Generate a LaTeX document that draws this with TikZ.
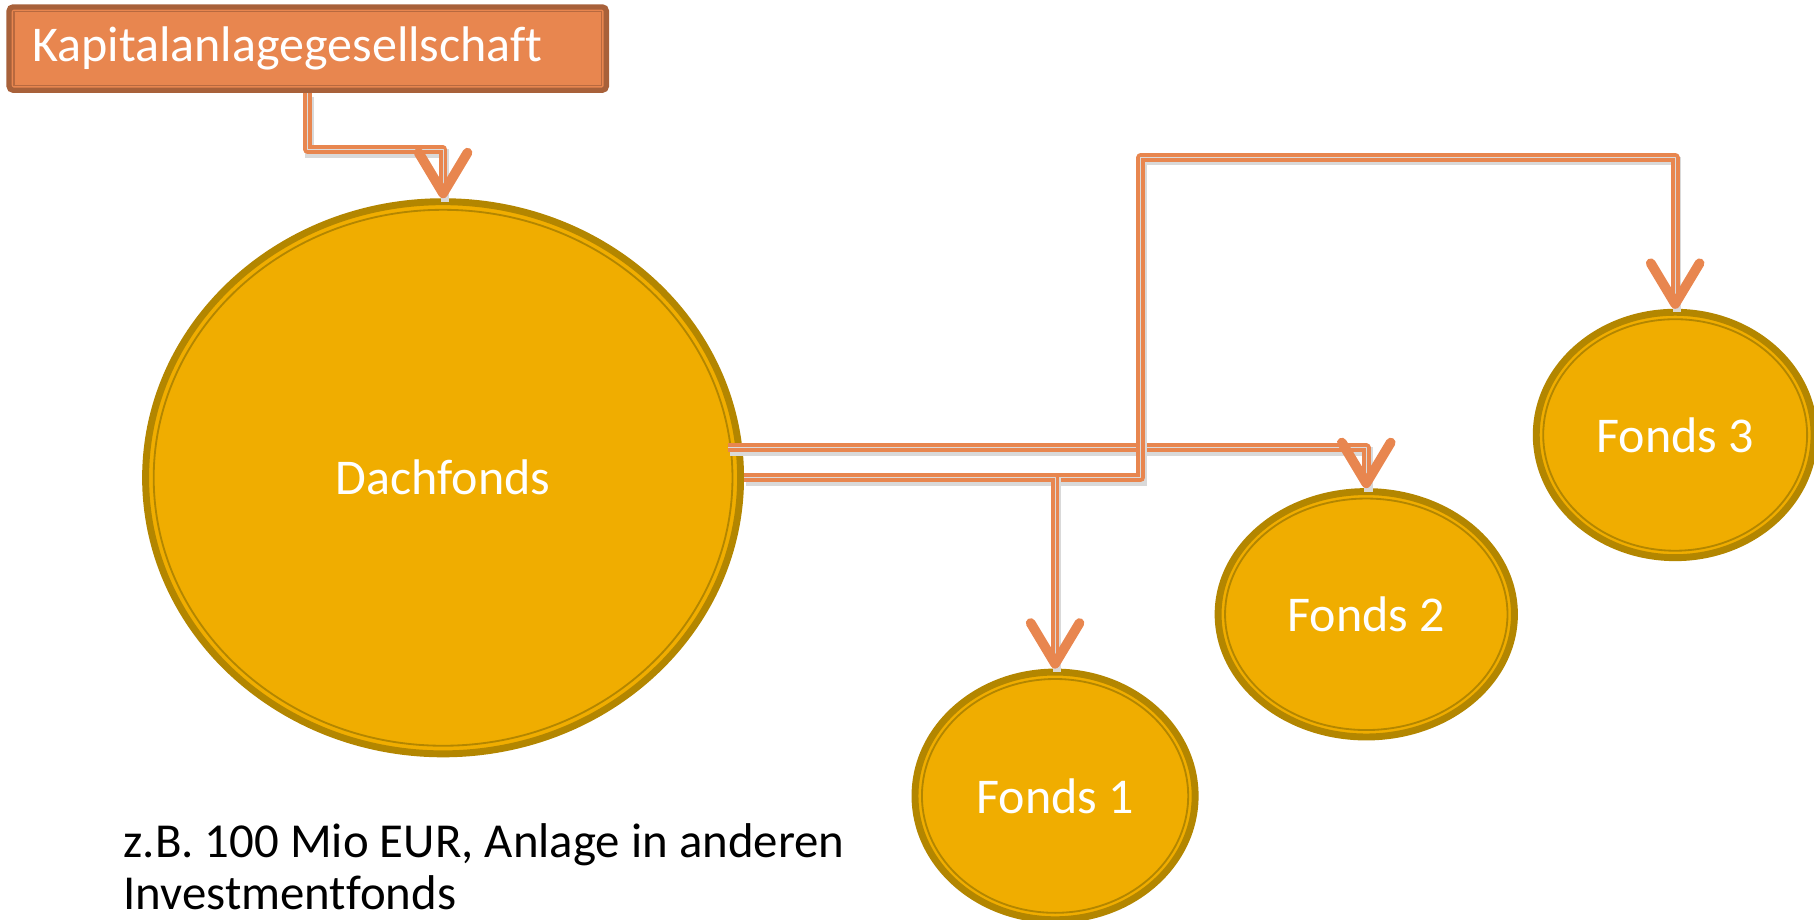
\documentclass[tikz,border=0pt]{standalone}
\usepackage{fontspec}
\setmainfont{Carlito}[Ligatures=NoCommon]
\usetikzlibrary{arrows.meta,shapes.geometric,calc}
\definecolor{boxfill}{HTML}{E8864F}
\definecolor{boxdark}{HTML}{A8613A}
\definecolor{boxline}{HTML}{B8693F}
\definecolor{gold}{HTML}{F0AD00}
\definecolor{golddark}{HTML}{B38600}
\definecolor{conn}{HTML}{E8864F}
\tikzset{
  kagbox/.style={draw=boxdark, line width=1.3pt, fill=boxfill, rounded corners=1pt,
    minimum width=5.16cm, minimum height=0.72cm, inner sep=0pt,
    text width=4.76cm, align=left, text=white, font=\fontsize{12.3}{14}\selectfont},
  fund/.style={ellipse, draw=golddark, line width=1.7pt, fill=gold, inner sep=0pt,
    text=white, font=\fontsize{12.3}{14}\selectfont},
  ringin/.style={draw=golddark, line width=0.45pt},
  conline/.style={draw=conn, line width=0.95pt, double=black!14, double distance=0.25pt,
    line join=round,
    preaction={draw=black!15, line width=2.1pt, -, double=none,
      transform canvas={shift={(0.5pt,-0.9pt)}}},
    -{Straight Barb[length=10pt,width=12pt,line width=2.4pt,round]}},
  note/.style={anchor=north west, inner sep=0pt, align=left, text=black,
    font=\fontsize{12}{12.9}\selectfont}
}
\begin{document}
\begin{tikzpicture}[x=0.01cm,y=-0.01cm]
\useasboundingbox (0,0) rectangle (1568,795);
% box
\node[kagbox] (k) at (266,42) {Kapitalanlagegesellschaft};
\draw[boxline, line width=0.4pt] (12,10) rectangle (520,74);
% funds
\node[fund, minimum width=5.14cm, minimum height=4.77cm] (d) at (383,413) {Dachfonds};
\draw[ringin] (d.center) ellipse [x radius=2.50cm, y radius=2.315cm];
\node[fund, minimum width=2.42cm, minimum height=2.14cm] (f1) at (912,688) {Fonds 1};
\draw[ringin] (f1.center) ellipse [x radius=1.15cm, y radius=1.01cm];
\node[fund, minimum width=2.56cm, minimum height=2.12cm] (f2) at (1181,531) {Fonds 2};
\draw[ringin] (f2.center) ellipse [x radius=1.22cm, y radius=1.00cm];
\node[fund, minimum width=2.40cm, minimum height=2.12cm] (f3) at (1448,376) {Fonds 3};
\draw[ringin] (f3.center) ellipse [x radius=1.14cm, y radius=1.00cm];
% connectors
\draw[conline] (k.south) -- ++(0,49) -| (d.north);
\draw[conline] ($(d.east)+(-14,-26)$) -| (f2.north);
\draw[conline] (d.east) -- ++(343,0) -- ++(0,-277) -| (f3.north);
\draw[conline] (d.east) -| (f1.north);
% note
\node[note] (n) at (106,711) {z.B. 100 Mio EUR, Anlage in anderen\\Investmentfonds};
\end{tikzpicture}
\end{document}
